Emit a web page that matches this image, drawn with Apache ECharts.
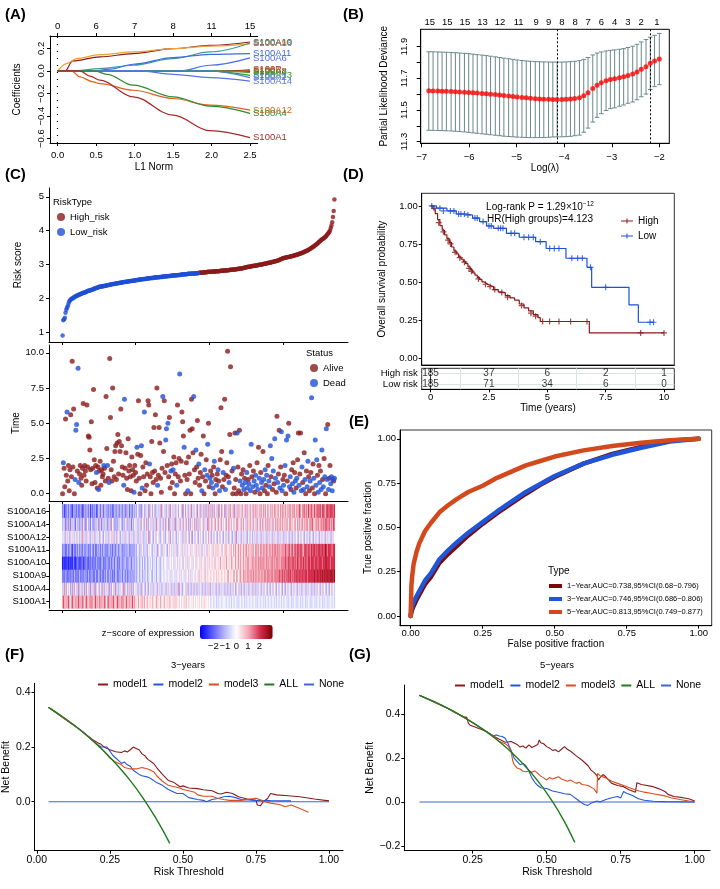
<!DOCTYPE html>
<html><head><meta charset="utf-8">
<script src="https://cdn.jsdelivr.net/npm/echarts@6/dist/echarts.min.js"></script>
<style>html,body{margin:0;padding:0;background:#fff}#c{width:720px;height:889px}</style>
</head><body><div id="c"></div>
<script>
// ---------- DATA ----------
// (A) LASSO coefficient paths
const l1Ticks = [0, 0.5, 1, 1.5, 2, 2.5];
const dfTop = ['0', '6', '7', '8', '11', '15'];
const pathGenes = ['S100A10','S100A9','S100A16','S100A11','S100A6','S100P','S100B','S100A8','S100A3','S100A13','S100A2','S100A14','S100A12','S100A4','S100A1'];
const pathColors = ['#8B1A1A','#F0A030','#3C9A9A','#3D6BE0','#4F6FE8','#A0302A','#E07030','#8B3A1A','#5A9A40','#2E9A2E','#4A7FD0','#5575E8','#E0601F','#2E8B2E','#A52A2A'];
const pathData = [
  [[0,0],[0.095,0],[0.195,0.088],[0.55,0.124],[0.98,0.153],[1.5,0.197],[1.98,0.226],[2.5,0.256]],
  [[0,0],[0.117,0.065],[0.247,0.109],[0.55,0.144],[0.98,0.168],[1.5,0.197],[1.98,0.22],[2.5,0.24]],
  [[0,0],[0.18,0],[0.55,0.02],[0.98,0.05],[1.5,0.109],[1.98,0.168],[2.5,0.247]],
  [[0,0],[0.46,0],[0.68,0.015],[0.98,0.059],[1.5,0.118],[1.98,0.147],[2.5,0.153]],
  [[0,0],[1.59,0],[1.98,0.05],[2.5,0.115]],
  [[0,0],[2.2,0],[2.5,0.01]],
  [[0,0],[2.25,0],[2.5,0.004]],
  [[0,0],[2.3,0],[2.5,-0.004]],
  [[0,0],[2.1,0],[2.5,-0.015]],
  [[0,0],[1.94,0],[2.5,-0.04]],
  [[0,0],[1.98,0],[2.5,-0.06]],
  [[0,0],[1.07,0],[1.5,-0.03],[1.98,-0.059],[2.5,-0.091]],
  [[0,0],[0.18,0],[0.29,-0.053],[0.46,-0.097],[0.55,-0.112],[0.98,-0.171],[1.5,-0.244],[1.98,-0.303],[2.5,-0.347]],
  [[0,0],[0.485,0],[0.64,-0.03],[0.98,-0.126],[1.5,-0.229],[1.98,-0.312],[2.5,-0.376]],
  [[0,0],[0.29,0],[0.42,-0.047],[0.55,-0.082],[0.98,-0.229],[1.5,-0.391],[1.98,-0.529],[2.5,-0.591]]
];
// (B) CV curve
const lamLog = [-6.85,-6.76,-6.66,-6.57,-6.48,-6.38,-6.29,-6.20,-6.10,-6.01,-5.92,-5.83,-5.73,-5.64,-5.55,-5.45,-5.36,-5.27,-5.17,-5.08,-4.99,-4.89,-4.80,-4.71,-4.61,-4.52,-4.43,-4.33,-4.24,-4.15,-4.05,-3.96,-3.87,-3.78,-3.68,-3.59,-3.50,-3.40,-3.31,-3.22,-3.12,-3.03,-2.94,-2.84,-2.75,-2.66,-2.56,-2.47,-2.38,-2.28,-2.19,-2.10,-2.00];
const cvMean = [11.622,11.621,11.620,11.619,11.618,11.617,11.616,11.614,11.613,11.611,11.609,11.607,11.605,11.603,11.600,11.598,11.595,11.592,11.589,11.586,11.583,11.580,11.577,11.574,11.572,11.570,11.569,11.568,11.567,11.567,11.567,11.568,11.570,11.573,11.577,11.590,11.609,11.636,11.657,11.672,11.685,11.693,11.697,11.704,11.710,11.719,11.727,11.740,11.757,11.773,11.795,11.810,11.822];
const cvUp = [11.868,11.868,11.867,11.866,11.865,11.864,11.862,11.860,11.858,11.856,11.853,11.850,11.847,11.844,11.840,11.836,11.832,11.828,11.824,11.820,11.816,11.813,11.810,11.808,11.806,11.805,11.804,11.803,11.803,11.803,11.803,11.804,11.806,11.808,11.812,11.820,11.832,11.848,11.860,11.867,11.873,11.877,11.880,11.884,11.888,11.895,11.903,11.915,11.930,11.945,11.960,11.972,11.984];
const cvLo = [11.372,11.372,11.371,11.370,11.369,11.368,11.366,11.364,11.362,11.359,11.356,11.353,11.350,11.347,11.344,11.341,11.338,11.335,11.333,11.331,11.329,11.328,11.327,11.326,11.326,11.326,11.327,11.328,11.330,11.331,11.331,11.332,11.334,11.338,11.342,11.360,11.386,11.424,11.454,11.477,11.497,11.509,11.514,11.524,11.532,11.543,11.551,11.565,11.584,11.601,11.630,11.648,11.660];
const lamMin = -4.15, lam1se = -2.19;
const topLam = [-6.83,-6.46,-6.09,-5.72,-5.35,-4.96,-4.59,-4.33,-4.05,-3.77,-3.50,-3.22,-2.94,-2.66,-2.38,-2.05];
const topDf = ['15','15','15','13','12','11','9','9','8','8','7','6','4','3','2','1'];
// (C) risk score, survival time/status, heatmap
const lowRiskCount = 185;
const riskScore = [0.90,1.35,1.38,1.42,1.57,1.66,1.72,1.76,1.84,1.90,1.93,1.96,1.98,1.99,2.00,2.02,2.03,2.05,2.06,2.07,2.08,2.09,2.10,2.11,2.12,2.13,2.14,2.15,2.16,2.16,2.17,2.18,2.19,2.20,2.21,2.22,2.22,2.23,2.24,2.24,2.25,2.26,2.27,2.28,2.29,2.30,2.30,2.31,2.32,2.33,2.34,2.34,2.35,2.35,2.35,2.36,2.36,2.36,2.37,2.37,2.38,2.38,2.39,2.39,2.40,2.40,2.41,2.41,2.42,2.42,2.42,2.43,2.43,2.44,2.44,2.44,2.45,2.45,2.46,2.46,2.46,2.47,2.47,2.48,2.48,2.48,2.49,2.49,2.49,2.50,2.50,2.50,2.51,2.51,2.51,2.52,2.52,2.52,2.53,2.53,2.53,2.54,2.54,2.54,2.55,2.55,2.55,2.56,2.56,2.56,2.57,2.57,2.57,2.57,2.58,2.58,2.58,2.59,2.59,2.59,2.60,2.60,2.60,2.60,2.61,2.61,2.61,2.61,2.62,2.62,2.62,2.62,2.63,2.63,2.63,2.63,2.64,2.64,2.64,2.64,2.65,2.65,2.65,2.65,2.66,2.66,2.66,2.66,2.67,2.67,2.67,2.67,2.67,2.68,2.68,2.68,2.68,2.69,2.69,2.69,2.69,2.70,2.70,2.70,2.70,2.71,2.71,2.71,2.71,2.71,2.72,2.72,2.72,2.72,2.72,2.73,2.73,2.73,2.73,2.73,2.73,2.74,2.74,2.74,2.74,2.75,2.75,2.75,2.75,2.76,2.76,2.76,2.76,2.77,2.77,2.77,2.77,2.78,2.78,2.78,2.78,2.78,2.78,2.78,2.79,2.79,2.79,2.79,2.79,2.80,2.80,2.80,2.80,2.80,2.81,2.81,2.81,2.81,2.82,2.82,2.82,2.82,2.82,2.83,2.83,2.83,2.83,2.84,2.84,2.84,2.84,2.85,2.85,2.85,2.85,2.86,2.86,2.86,2.87,2.87,2.87,2.88,2.88,2.88,2.89,2.89,2.90,2.90,2.91,2.91,2.92,2.92,2.93,2.93,2.93,2.94,2.94,2.95,2.95,2.95,2.96,2.96,2.97,2.97,2.97,2.98,2.98,2.99,2.99,3.00,3.00,3.00,3.01,3.01,3.02,3.02,3.03,3.03,3.04,3.04,3.05,3.05,3.06,3.06,3.07,3.07,3.08,3.08,3.09,3.09,3.10,3.11,3.11,3.12,3.13,3.14,3.15,3.16,3.17,3.18,3.19,3.19,3.20,3.20,3.21,3.21,3.22,3.22,3.23,3.23,3.24,3.24,3.25,3.25,3.26,3.27,3.27,3.28,3.29,3.29,3.30,3.31,3.32,3.32,3.33,3.34,3.35,3.36,3.37,3.38,3.39,3.40,3.41,3.42,3.43,3.45,3.46,3.47,3.49,3.50,3.52,3.53,3.55,3.57,3.58,3.60,3.62,3.64,3.66,3.68,3.70,3.72,3.74,3.75,3.77,3.78,3.80,3.82,3.85,3.88,3.90,3.93,3.96,4.00,4.08,4.15,4.25,4.40,4.58,4.92];
const survTime = [0.0,2.2,1.8,0.5,5.3,1.3,5.8,0.9,2.0,0.2, 1.7,5.6,1.2,9.4,1.9,6.0,0.0,1.0,4.5,4.9, 1.6,8.9,0.8,1.4,2.0,1.1,0.6,1.8,6.4,1.3, 2.0,1.6,0.9,6.3,1.9,4.1,4.0,3.1,1.7,5.1, 0.7,1.8,7.4,2.4,0.8,2.0,1.5,0.4,1.9,0.3, 1.6,2.3,0.6,1.7,1.2,1.4,2.0,1.8,0.9,6.9, 3.2,2.0,1.1,0.8,9.6,5.4,1.7,0.9,7.5,2.3, 1.2,3.0,3.4,1.0,3.6,4.2,1.4,3.7,3.0,6.0, 3.4,1.9,1.3,0.6,6.7,1.8,2.9,1.1,0.3,3.9, 1.6,2.0,1.2,0.2,2.6,1.7,1.3,0.1,2.0,1.5, 0.9,3.3,2.8,6.6,1.1,0.0,2.7,3.4,0.4,1.9, 1.2,5.8,0.2,2.2,0.6,1.4,6.6,6.3,2.1,1.2, 0.0,3.7,1.5,0.8,4.7,1.6,5.6,1.0,7.5,0.6, 1.3,4.7,3.6,1.1,0.1,1.8,6.9,3.0,6.6,1.5, 3.8,4.6,2.0,5.0,1.2,5.4,0.4,1.6,2.1,0.8, 1.7,2.6,0.0,1.4,2.2,0.6,6.3,1.2,2.5,8.5, 0.9,2.3,5.8,5.1,4.1,3.3,1.3,0.0,2.2,1.0, 0.2,2.6,1.4,4.5,0.0,6.7,4.6,2.9,6.9,1.7, 0.8,3.1,1.9,5.2,1.1,2.1,0.6,1.5,2.8,0.2, 1.2,4.1,0.0,1.7,0.9,2.4,1.3,3.5,5.0,0.5, 1.1,1.6,0.8,1.3,0.4,1.9,2.3,0.0,1.0,0.6, 1.4,1.7,0.9,0.2,2.4,6.1,3.0,0.5,1.5,1.0, 6.7,0.3,1.3,2.2,10.1,1.2,0.8,4.2,9.0,2.95, 1.6,0.0,1.8,0.4,4.3,1.0,0.0,4.3,1.9,0.2, 4.5,0.9,0.0,1.4,0.6,1.7,0.3,1.1,0.8,0.0, 1.5,0.4,1.0,0.7,2.0,0.2,3.5,1.2,0.5,1.6, 0.9,0.1,1.3,0.6,2.2,0.3,3.3,1.1,0.0,1.5, 0.8,0.4,3.0,1.0,0.2,1.7,0.6,1.3,0.0,2.0, 0.9,0.5,3.4,1.2,2.5,0.3,1.6,0.7,3.9,1.1, 0.1,5.5,0.8,1.4,4.5,0.4,1.9,4.4,0.2,1.0, 0.6,1.3,2.0,0.0,3.8,0.9,4.1,5.0,0.5,1.2, 0.3,1.7,0.7,2.2,0.1,1.5,0.9,0.4,1.1,2.4, 4.3,0.6,1.4,4.3,0.2,1.9,0.8,0.3,2.9,1.0, 0.0,1.6,0.5,2.3,1.2,0.2,0.9,1.5,6.8,0.4, 2.1,1.1,0.0,3.8,0.6,2.4,1.3,0.1,2.0,0.8, 1.6,0.3,3.1,1.0,0.5,2.5,1.2,0.0,4.6,1.0, 4.9,0.3,1.1,2.0,0.7,1.2,0.2,1.0,0.9,1.1];
const survStatus = 'adaaaadaaa aaaaaaaddd addaaaaaaa aaaaaaaaaa aaaaaadaad aaaaaadaaa adadaaaaaa aaaaaaaaaa aaaddaaaaa aaaaaaadaa adaaaaadda adaaaaaada aaaaaaaaad aaaaaadaaa ddadaaadaa daaaadaaad aaaaadaaaa daaaaaaada adaaadaaad aaadaaddaa dadadadaad adadaaaada adaaaadaad aadaaaadaa adaadadada ddadaddada daddadadaa ddadadadaa dddadadadd aadaadadda dadadadadd aadadadada adaaddadad aaddaadada adadddadad addadadadd adaaddddad';
const heatGenes = ['S100A1','S100A4','S100A9','S100A10','S100A11','S100A12','S100A14','S100A16'];
const heatRows = [
 '5675646576 5465756465 6576465756 4657564657 5646576465 5756465756 4657564657 6546576465 5756465746 5646576465 4546545465 4654546454 5464545465 4546454546 4545464545 4546454545 4454545464 4545445454 4544545445 4545454454 4343434343 3434343434 4343434343 3434343433 4343434334 3434343434 3434334343 4343433434 3434343434 3343434334 3434343343 4334343433 4343343434 3343434334 3434334343 4343343434 3343434343',
 '3536352435 4253635243 5362435243 6352435362 4353625343 5243635243 5342635243 5362435243 4536253425 3524635243 4352435253 4352435243 5342534352 4353425343 5243534352 4352435362 4352434353 5243524352 4352435343 5243524353 5243534352 4352435343 5243524352 4353425343 5352435243 5342534352 4352435343 5243534352 4352435343 5243534352 4352435343 5243534352 4353425343 5243534352 4352435343 5243534352 4352435343',
 '2121312121 2131212312 1213212131 2312123121 3212131213 2213121312 3212313212 2132312132 3213231312 2313231323 3234323432 3423432343 4323434324 3432434343 4343434354 3434354343 4354345343 4534354345 4345453545 4545354545 4545454545 5454545454 5454565454 5456545654 5565456565 5656565656 6565656565 6565666566 6656666566 6666676667 6676676767 7667676777 6777677767 7776777777 7787777877 7878778787 8787887878',
 '0010010100 1010021001 1210201210 1212120212 2121212312 1212321212 2312132123 2132312213 2312323213 2323132323 3234323432 4323432343 3432434324 3432434354 4343543434 4354343543 4345354345 3543454354 4534545435 4545354545 5454545354 5454564545 5456454545 6545465456 5465456546 5656546565 6565656656 6566565665 6565666565 6666565666 6667666767 6676767667 7667676776 7676777677 7767777677 7776777787 7777677777',
 '2132121312 2312031213 1232132123 2132312213 3212312132 2313213231 2132313212 3213231323 2312313232 3213231323 3243423534 3243532434 4352434352 3543425343 4352435453 4354352434 5435343545 3454354345 4535435453 5345435354 5454535454 6454545354 5465454546 5456465456 5465456546 6546546556 5465656546 6556565665 5656566566 6566565656 6567656676 5676567667 6767676567 7676767677 6777676777 7677767877 6777767677',
 '3435243534 2534354243 5342435635 3425343524 3534253434 2534352435 3425343534 6342534352 4353425343 5243534253 4352435343 5243534625 3435243534 4352434535 2434535243 5343524354 3435243535 4352436243 5343524354 3524353436 4352435343 5243534352 4353425343 5243536243 4352435343 5234353424 3534253435 2435343524 3534352435 4352435343 5243534352 4352435343 5243534352 4353425343 5243534352 4353435243 5343524354',
 '3243152362 3142353214 2531423624 3152432513 4231532436 2351423524 3142536243 5231423534 2413524352 3524135243 4352435254 3524635243 5342534625 4352435364 2534625342 4536253453 5243564352 4635243546 3524635354 4635345263 5463545364 5364536453 4536456354 6453546365 4536456453 5364556435 6453564536 4563546356 5364536546 3564656456 5465365465 6546456546 5364656546 5656465657 6546565665 5665756676 6576566576',
 '2130212312 3212031321 2312132021 3152312302 2131230213 3213521323 2312313212 1323152313 2313231252 3123213323 3243523153 4325343265 3425432534 2435263453 5324352643 3542534524 4352634254 5243562435 3452643525 4253642536 5364253645 3562546354 2563546365 4536254635 6453564356 5364536456 3564635465 6546356456 5465364565 6456546356 5646546365 6547565465 6576546576 5665765675 6576567576 7657676567 7676776767'
];
const zTicks = [-2, -1, 0, 1, 2];
// (D) Kaplan-Meier
const kmHigh = [[0,1],[0.1,0.98],[0.2,0.95],[0.3,0.91],[0.4,0.87],[0.5,0.84],[0.6,0.81],[0.7,0.785],[0.8,0.76],[0.9,0.73],[1.0,0.705],[1.1,0.685],[1.2,0.665],[1.3,0.65],[1.4,0.635],[1.5,0.62],[1.6,0.6],[1.7,0.58],[1.8,0.56],[1.9,0.545],[2.0,0.53],[2.1,0.515],[2.2,0.5],[2.3,0.49],[2.4,0.48],[2.5,0.47],[2.7,0.45],[2.9,0.435],[3.0,0.43],[3.2,0.41],[3.4,0.395],[3.6,0.38],[3.8,0.355],[4.0,0.33],[4.2,0.31],[4.4,0.285],[4.6,0.265],[4.7,0.24],[6.8,0.165],[10.0,0.165]];
const kmLow = [[0,1],[0.25,0.985],[0.7,0.967],[1.1,0.947],[1.5,0.94],[1.8,0.92],[2.1,0.897],[2.4,0.868],[2.7,0.853],[3.25,0.82],[3.8,0.794],[4.5,0.765],[4.95,0.72],[5.8,0.656],[6.7,0.596],[6.9,0.465],[8.5,0.349],[8.9,0.235],[9.55,0.235]];
const censHigh = [[0.35,0.89],[0.55,0.83],[0.75,0.775],[0.85,0.75],[1.05,0.695],[1.25,0.66],[1.45,0.63],[1.65,0.59],[1.75,0.57],[2.05,0.52],[2.35,0.485],[2.55,0.47],[2.75,0.45],[3.05,0.43],[3.3,0.40],[3.9,0.345],[4.3,0.295],[4.5,0.275],[4.8,0.24],[5.1,0.24],[5.5,0.24],[6.0,0.24],[6.7,0.24],[9.0,0.165],[10.0,0.165]];
const censLow = [[0.05,1.0],[0.15,0.985],[0.4,0.985],[0.55,0.967],[0.85,0.967],[1.0,0.967],[1.2,0.947],[1.3,0.947],[1.45,0.947],[1.6,0.94],[1.9,0.92],[2.0,0.92],[2.25,0.897],[2.5,0.868],[2.6,0.868],[2.9,0.853],[3.0,0.853],[3.1,0.853],[3.45,0.82],[3.6,0.82],[4.0,0.794],[4.2,0.794],[4.4,0.794],[4.7,0.765],[5.1,0.72],[5.3,0.72],[5.5,0.72],[6.05,0.656],[6.3,0.656],[6.5,0.656],[6.85,0.596],[7.5,0.465],[9.4,0.235],[9.55,0.235]];
const tableTimes = [0, 2.5, 5, 7.5, 10];
const atRiskHigh = [185, 37, 6, 2, 1];
const atRiskLow = [185, 71, 34, 6, 0];
// (E) ROC
const rocNames = ['1−Year,AUC=0.738,95%CI(0.68−0.796)','3−Year,AUC=0.746,95%CI(0.686−0.806)','5−Year,AUC=0.813,95%CI(0.749−0.877)'];
const rocFpr = [0,0.0025,0.005,0.01,0.02,0.03,0.05,0.07,0.1,0.13,0.16,0.2,0.25,0.3,0.35,0.4,0.45,0.5,0.6,0.7,0.8,0.9,1.0];
const roc1 = [0,0.02,0.035,0.055,0.09,0.12,0.18,0.22,0.3,0.35,0.395,0.455,0.52,0.58,0.635,0.69,0.74,0.785,0.86,0.915,0.955,0.99,1.0];
const roc3 = [0,0.035,0.05,0.075,0.11,0.14,0.2,0.24,0.32,0.37,0.415,0.47,0.53,0.59,0.645,0.70,0.745,0.79,0.86,0.91,0.95,0.985,1.0];
const roc5 = [0,0.17,0.22,0.29,0.36,0.41,0.48,0.525,0.585,0.625,0.66,0.70,0.735,0.78,0.815,0.85,0.875,0.90,0.935,0.96,0.978,0.992,1.0];
// (F) DCA 3-years
const f3Model1 = [[0.04,0.345],[0.1,0.30],[0.15,0.262],[0.19,0.228],[0.21,0.215],[0.22,0.21],[0.23,0.2],[0.25,0.19],[0.27,0.183],[0.29,0.18],[0.3,0.186],[0.31,0.182],[0.32,0.19],[0.33,0.2],[0.34,0.195],[0.35,0.19],[0.36,0.175],[0.37,0.168],[0.38,0.155],[0.4,0.14],[0.41,0.125],[0.43,0.1],[0.45,0.078],[0.47,0.07],[0.49,0.055],[0.5,0.058],[0.52,0.05],[0.55,0.048],[0.57,0.044],[0.6,0.04],[0.62,0.03],[0.63,0.028],[0.65,0.035],[0.67,0.03],[0.69,0.018],[0.72,0.01],[0.75,0.005],[0.755,-0.012],[0.765,-0.015],[0.775,0.0],[0.79,0.012],[0.8,0.03],[0.82,0.025],[0.86,0.022],[0.9,0.018],[0.95,0.01],[1.0,0.003]];
const f3Model2 = [[0.04,0.345],[0.1,0.30],[0.15,0.262],[0.2,0.215],[0.22,0.2],[0.24,0.2],[0.25,0.185],[0.26,0.17],[0.27,0.16],[0.28,0.15],[0.29,0.14],[0.3,0.145],[0.31,0.135],[0.32,0.13],[0.33,0.115],[0.35,0.1],[0.36,0.095],[0.38,0.09],[0.39,0.085],[0.41,0.07],[0.43,0.06],[0.45,0.045],[0.47,0.035],[0.48,0.03],[0.5,0.03],[0.52,0.015],[0.55,0.008],[0.57,0.005],[0.58,0.0],[0.6,0.008],[0.62,0.012],[0.64,0.018],[0.66,0.02],[0.68,0.015],[0.7,0.008],[0.75,0.005],[0.8,0.004],[0.87,0.003]];
const f3Model3 = [[0.04,0.345],[0.1,0.30],[0.15,0.262],[0.2,0.215],[0.23,0.185],[0.25,0.16],[0.27,0.145],[0.29,0.135],[0.3,0.125],[0.32,0.12],[0.34,0.12],[0.36,0.125],[0.38,0.12],[0.4,0.11],[0.41,0.095],[0.43,0.075],[0.45,0.06],[0.47,0.055],[0.49,0.05],[0.5,0.045],[0.52,0.04],[0.54,0.035],[0.55,0.025],[0.57,0.02],[0.6,0.02],[0.62,0.012],[0.64,0.008],[0.66,0.005],[0.7,0.005],[0.73,0.01],[0.75,0.013],[0.77,0.005],[0.78,0.0],[0.8,-0.005],[0.83,-0.01],[0.85,-0.018],[0.87,-0.012],[0.89,-0.02],[0.93,-0.038]];
const f3All = [[0.04,0.345],[0.08,0.317],[0.12,0.286],[0.16,0.252],[0.2,0.215],[0.24,0.174],[0.28,0.128],[0.32,0.077],[0.36,0.019],[0.4,-0.047],[0.43,-0.102],[0.455,-0.152]];
const f3None = [[0.04,0],[1.0,0]];
// (G) DCA 5-years
const g5Model1 = [[0.07,0.485],[0.12,0.456],[0.17,0.423],[0.2,0.4],[0.22,0.388],[0.23,0.385],[0.235,0.36],[0.24,0.35],[0.26,0.34],[0.28,0.33],[0.3,0.318],[0.32,0.3],[0.34,0.285],[0.36,0.272],[0.38,0.275],[0.4,0.262],[0.41,0.25],[0.42,0.255],[0.43,0.245],[0.44,0.26],[0.45,0.248],[0.46,0.255],[0.47,0.262],[0.475,0.282],[0.48,0.27],[0.49,0.265],[0.5,0.252],[0.51,0.245],[0.52,0.235],[0.53,0.238],[0.54,0.228],[0.55,0.24],[0.56,0.252],[0.57,0.24],[0.58,0.232],[0.6,0.21],[0.62,0.19],[0.64,0.165],[0.65,0.145],[0.66,0.135],[0.67,0.12],[0.675,0.1],[0.68,0.11],[0.69,0.125],[0.7,0.115],[0.71,0.1],[0.72,0.085],[0.74,0.075],[0.76,0.07],[0.78,0.055],[0.8,0.045],[0.805,0.088],[0.82,0.08],[0.86,0.07],[0.88,0.06],[0.9,0.048],[0.91,0.035],[0.93,0.025],[0.96,0.02],[0.98,0.015],[1.0,0.005]];
const g5Model2 = [[0.07,0.485],[0.17,0.423],[0.22,0.386],[0.27,0.344],[0.3,0.318],[0.32,0.3],[0.33,0.305],[0.34,0.3],[0.35,0.298],[0.36,0.29],[0.37,0.265],[0.38,0.235],[0.39,0.2],[0.4,0.185],[0.41,0.17],[0.42,0.175],[0.43,0.165],[0.44,0.14],[0.45,0.11],[0.46,0.09],[0.47,0.075],[0.48,0.065],[0.5,0.062],[0.52,0.05],[0.54,0.045],[0.56,0.038],[0.58,0.035],[0.59,0.025],[0.6,0.015],[0.61,0.005],[0.62,-0.005],[0.63,-0.012],[0.64,-0.015],[0.65,-0.005],[0.66,0.0],[0.67,0.005],[0.68,0.0],[0.7,0.012],[0.72,0.02],[0.74,0.025],[0.75,0.018],[0.76,0.048],[0.77,0.04],[0.79,0.03],[0.81,0.015],[0.83,0.008],[0.86,0.004],[0.9,0.002],[1.0,0.0]];
const g5Model3 = [[0.07,0.485],[0.17,0.423],[0.22,0.384],[0.25,0.36],[0.28,0.335],[0.3,0.318],[0.32,0.3],[0.34,0.275],[0.36,0.265],[0.37,0.255],[0.38,0.23],[0.385,0.19],[0.39,0.17],[0.4,0.155],[0.41,0.15],[0.42,0.14],[0.43,0.138],[0.44,0.14],[0.45,0.135],[0.46,0.142],[0.47,0.13],[0.48,0.118],[0.49,0.11],[0.5,0.1],[0.51,0.112],[0.52,0.105],[0.53,0.11],[0.54,0.115],[0.55,0.105],[0.57,0.095],[0.58,0.1],[0.6,0.085],[0.61,0.09],[0.62,0.08],[0.64,0.075],[0.66,0.06],[0.67,0.04],[0.672,0.13],[0.68,0.12],[0.7,0.11],[0.72,0.095],[0.74,0.085],[0.76,0.075],[0.78,0.065],[0.8,0.055],[0.83,0.045],[0.86,0.038],[0.9,0.028],[0.92,0.02],[0.95,0.012],[0.98,0.005],[1.0,0.0]];
const g5All = [[0.07,0.485],[0.12,0.456],[0.17,0.423],[0.22,0.386],[0.27,0.344],[0.32,0.296],[0.37,0.24],[0.42,0.174],[0.47,0.096],[0.52,0.002],[0.56,-0.089],[0.595,-0.183]];
const g5None = [[0.07,0],[1.0,0]];

// ---------- BUILD ----------
const FONT = '"Liberation Sans", Arial, Helvetica, sans-serif';
const RED = '#8B1A1A', BLUE = '#1E4FD6';
const mfmt = d => v => (v < 0 ? '\u2212' : '') + Math.abs(v).toFixed(d);

function ax(g, min, max, ticks, fmt, o) {
  o = o || {};
  const a = {type:'value', gridIndex:g, min:min, max:max,
    axisLine:{show:!o.noLine, onZero:false, lineStyle:{color:o.lineColor||'#000', width:1}},
    axisTick:{show:!o.noTick, length:o.tickLen||3, inside:!!o.tickInside, customValues:ticks, lineStyle:{color:o.tickColor||'#000'}},
    axisLabel:{show:!o.noLabel, customValues:o.labels||ticks, formatter:fmt, color:'#000', fontSize:o.fs||9.5, margin:o.margin==null?5:o.margin, rotate:o.rotate||0, fontFamily:FONT},
    splitLine:{show:false}};
  if (o.name) { a.name=o.name; a.nameLocation='middle'; a.nameGap=o.gap; a.nameTextStyle={color:'#000', fontSize:o.nfs||10, fontFamily:FONT}; }
  if (o.position) a.position = o.position;
  if (o.offset) a.offset = o.offset;
  if (o.show === false) a.show = false;
  return a;
}

const grids = [
  {left:50, width:207.7, top:36, height:107},            //0 A
  {left:420.7, width:248.6, top:29.3, height:114, show:true, borderColor:'#000', borderWidth:1}, //1 B
  {left:49, width:299, top:188, height:154},            //2 C risk
  {left:49, width:299, top:345, height:156},            //3 C time
  {left:62.2, width:272.6, top:504.5, height:103.7},    //4 C heat
  {left:49, width:299, top:504.5, height:105.5},        //5 C frame
  {left:200, width:72.7, top:625, height:14},           //6 colorbar
  {left:421.7, width:252.6, top:193.3, height:171.7, show:true, borderColor:'#333', borderWidth:1}, //7 D KM
  {left:421.7, width:252.6, top:368.3, height:21, show:true, borderColor:'#333', borderWidth:1},   //8 D table
  {left:400, width:311.7, top:430, height:195.7, show:true, borderColor:'#333', borderWidth:1},    //9 E
  {left:33.3, width:309.7, top:683.3, height:167.4},    //10 F
  {left:404.3, width:305.7, top:685, height:165.7}      //11 G
];

const xIdxMin = -17.45, xIdxMax = 388.45, idxTicks = [0,100,200,300];
const heatCats = riskScore.map((v,i)=>String(i+1));

const xAxis = [
  ax(0, -0.1, 2.6, l1Ticks, mfmt(1), {name:'L1 Norm', gap:19, margin:7}),                       //0
  ax(0, -0.1, 2.6, l1Ticks, v => dfTop[Math.round(v/0.5)], {position:'top', margin:5}),       //1
  ax(1, -7.02, -1.79, [-7,-6,-5,-4,-3,-2], mfmt(0), {name:'Log(\u03bb)', gap:18, margin:9, tickLen:4}), //2
  ax(1, -7.02, -1.79, topLam, v => { let b=0; for (let i=1;i<topLam.length;i++) if (Math.abs(topLam[i]-v)<Math.abs(topLam[b]-v)) b=i; return topDf[b]; }, {position:'top', noTick:true, noLine:true, margin:2}), //3
  ax(2, xIdxMin, xIdxMax, idxTicks, null, {noLabel:true}),                                     //4
  ax(3, xIdxMin, xIdxMax, idxTicks, null, {noLabel:true}),                                     //5
  {type:'category', gridIndex:4, data:heatCats, show:false},                                   //6
  ax(5, xIdxMin, xIdxMax, idxTicks, null, {noLabel:true}),                                     //7
  ax(6, -3.15, 3.15, zTicks, mfmt(0), {noLine:true, tickInside:true, tickColor:'#fff', margin:2, fs:9.5}), //8
  ax(7, -0.38, 10.44, [], null, {noLabel:true, noTick:true}),                                  //9
  ax(8, -0.38, 10.44, tableTimes, v => String(v), {name:'Time (years)', gap:12, margin:3}),   //10
  ax(9, -0.037, 1.045, [0,0.25,0.5,0.75,1], mfmt(2), {name:'False positive fraction', gap:12, margin:3}), //11
  ax(10, -0.008, 1.048, [0,0.25,0.5,0.75,1], mfmt(2), {name:'Risk Threshold', gap:16, margin:4, fs:10.5, nfs:10.5}), //12
  ax(11, 0.019, 1.052, [0.25,0.5,0.75,1], mfmt(2), {name:'Risk Threshold', gap:15, margin:4, fs:10.5, nfs:10.5})     //13
];

const yAxis = [
  ax(0, -0.638, 0.309, [-0.6,-0.4,-0.2,0,0.2], mfmt(1), {name:'Coefficients', gap:28, rotate:90, margin:4}), //0
  ax(1, 11.29, 12.01, [11.3,11.4,11.5,11.6,11.7,11.8,11.9], mfmt(1), {labels:[11.3,11.5,11.7,11.9], name:'Partial Likelihood Deviance', gap:31, rotate:90, margin:11, tickLen:4}), //1
  ax(2, 0.705, 5.26, [1,2,3,4,5], v => String(v), {name:'Risk score', gap:26, margin:5}),   //2
  ax(3, -0.52, 10.55, [0,2.5,5,7.5,10], mfmt(1), {name:'Time', gap:26, margin:5}),          //3
  {type:'category', gridIndex:4, data:heatGenes, offset:13,
    axisLine:{show:true, lineStyle:{color:'#000'}}, axisTick:{show:true, length:3, interval:0, alignWithLabel:true, lineStyle:{color:'#000'}},
    axisLabel:{color:'#000', fontSize:9.5, margin:3, interval:0, fontFamily:FONT}},               //4
  ax(5, 0, 1, [], null, {show:false}),                                                          //5
  ax(6, 0, 1, [], null, {show:false}),                                                          //6
  ax(7, -0.046, 1.083, [0,0.25,0.5,0.75,1], mfmt(2), {name:'Overall survival probability', gap:34, margin:4}), //7
  {type:'category', gridIndex:8, data:['Low risk','High risk'],
    axisLine:{show:true, lineStyle:{color:'#333'}}, axisTick:{show:true, length:3, interval:0, alignWithLabel:true, lineStyle:{color:'#000'}},
    axisLabel:{color:'#000', fontSize:9.5, margin:4, interval:0, fontFamily:FONT}},               //8
  ax(9, -0.055, 1.05, [0,0.25,0.5,0.75,1], mfmt(2), {name:'True positive fraction', gap:25, margin:4}), //9
  ax(10, -0.179, 0.433, [0,0.2,0.4], mfmt(1), {name:'Net Benefit', gap:20, margin:4, fs:10.5, nfs:10.5}), //10
  ax(11, -0.221, 0.532, [-0.2,0,0.2,0.4], mfmt(1), {name:'Net Benefit', gap:24, margin:4, fs:10.5, nfs:10.5}) //11
];

const series = [];
// A
pathGenes.forEach((g, i) => {
  const s = {type:'line', name:g, xAxisIndex:0, yAxisIndex:0, data:pathData[i], smooth:0.35, smoothMonotone:'x',
    showSymbol:false, symbol:'none', lineStyle:{color:pathColors[i], width:1.2}, itemStyle:{color:pathColors[i]},
    endLabel:{show:true, formatter:'{a}', color:pathColors[i], fontSize:9.5, fontFamily:FONT, distance:3}, silent:true};
  if (i === 0) s.markLine = {symbol:['none','none'], silent:true, label:{show:false}, lineStyle:{type:[1,6], color:'#000', width:1.2}, data:[{xAxis:0}]};
  series.push(s);
});
// B
series.push({type:'custom', xAxisIndex:2, yAxisIndex:1, data: lamLog.map((x,i)=>[x, cvLo[i], cvUp[i]]),
  encode:{x:0, y:[1,2]}, silent:true,
  renderItem:(p, api) => {
    const a = api.coord([api.value(0), api.value(1)]), b = api.coord([api.value(0), api.value(2)]), w = 2.3;
    const st = {stroke:'#6B8888', lineWidth:1};
    return {type:'group', children:[
      {type:'line', shape:{x1:a[0], y1:a[1], x2:b[0], y2:b[1]}, style:st},
      {type:'line', shape:{x1:a[0]-w, y1:a[1], x2:a[0]+w, y2:a[1]}, style:st},
      {type:'line', shape:{x1:b[0]-w, y1:b[1], x2:b[0]+w, y2:b[1]}, style:st}]};
  }});
series.push({type:'scatter', xAxisIndex:2, yAxisIndex:1, data: lamLog.map((x,i)=>[x, cvMean[i]]), symbolSize:5,
  itemStyle:{color:'#FF0000'}, silent:true, z:5,
  markLine:{symbol:['none','none'], silent:true, label:{show:false}, lineStyle:{type:[2,2], color:'#000', width:1}, data:[{xAxis:lamMin},{xAxis:lam1se}]}});
// C risk
series.push({type:'scatter', name:'High_risk', xAxisIndex:4, yAxisIndex:2, symbolSize:4.5, itemStyle:{color:RED},
  data: riskScore.map((v,i)=>[i+1, v]).filter((d,i)=>i>=lowRiskCount), silent:true});
series.push({type:'scatter', name:'Low_risk', xAxisIndex:4, yAxisIndex:2, symbolSize:4.5, itemStyle:{color:BLUE},
  data: riskScore.map((v,i)=>[i+1, v]).filter((d,i)=>i<lowRiskCount), silent:true});
// C time
const stat = survStatus.replace(/\s/g,'');
series.push({type:'scatter', name:'Alive', xAxisIndex:5, yAxisIndex:3, symbolSize:5, itemStyle:{color:RED},
  data: survTime.map((t,i)=>[i+1, t]).filter((d,i)=>stat[i]==='a'), silent:true});
series.push({type:'scatter', name:'Dead', xAxisIndex:5, yAxisIndex:3, symbolSize:5, itemStyle:{color:BLUE},
  data: survTime.map((t,i)=>[i+1, t]).filter((d,i)=>stat[i]==='d'), silent:true});
// C heat
const heatData = [];
heatRows.forEach((r, gi) => {
  const s = r.replace(/\s/g,'');
  for (let i = 0; i < Math.min(s.length, heatCats.length); i++) heatData.push([i, gi, (Number(s[i]) - 4) * 0.7]);
});
const heatSeriesIndex = series.length;
series.push({type:'heatmap', xAxisIndex:6, yAxisIndex:4, data:heatData, silent:true, progressive:0, itemStyle:{borderWidth:0}});
// D
const plusSym = 'path://M4,0H6V4H10V6H6V10H4V6H0V4H4Z';
series.push({type:'line', name:'High', xAxisIndex:9, yAxisIndex:7, data:kmHigh, step:'end', symbol:'none', lineStyle:{color:RED, width:1.2}, itemStyle:{color:RED}, silent:true});
series.push({type:'line', name:'Low', xAxisIndex:9, yAxisIndex:7, data:kmLow, step:'end', symbol:'none', lineStyle:{color:BLUE, width:1.2}, itemStyle:{color:BLUE}, silent:true});
series.push({type:'scatter', xAxisIndex:9, yAxisIndex:7, data:censHigh, symbol:plusSym, symbolSize:6, itemStyle:{color:RED}, silent:true});
series.push({type:'scatter', xAxisIndex:9, yAxisIndex:7, data:censLow, symbol:plusSym, symbolSize:6, itemStyle:{color:BLUE}, silent:true});
const tableData = tableTimes.map((t,i)=>[t,'High risk',atRiskHigh[i]]).concat(tableTimes.map((t,i)=>[t,'Low risk',atRiskLow[i]]));
series.push({type:'scatter', xAxisIndex:10, yAxisIndex:8, data:tableData, symbolSize:0.1, itemStyle:{color:'transparent'}, silent:true, z:5,
  label:{show:true, position:'inside', formatter:p=>String(p.value[2]), color:'#000', fontSize:10, fontFamily:FONT, backgroundColor:'transparent'},
  markLine:{symbol:['none','none'], silent:true, label:{show:false}, lineStyle:{type:'solid', color:'#D8E4E4', width:1},
    data:[{yAxis:'High risk'},{yAxis:'Low risk'},{xAxis:1.25},{xAxis:3.75},{xAxis:6.25},{xAxis:8.75}]}});
// E
const rocCols = ['#7A0A0A','#1F55D6','#D2491E'];
[roc1, roc3, roc5].forEach((r, k) => series.push({type:'line', name:rocNames[k], xAxisIndex:11, yAxisIndex:9,
  data: rocFpr.map((f,i)=>[f, r[i]]), smooth:false, symbol:'none', lineStyle:{color:rocCols[k], width:4.5, cap:'round', join:'round'}, itemStyle:{color:rocCols[k]}, silent:true}));
// F / G
const dcaCols = {model1:'#8B1A1A', model2:'#2358D8', model3:'#D94E1F', ALL:'#1E7B1E', None:'#3F62E0'};
function dca(xi, yi, sets) {
  Object.keys(sets).forEach(n => series.push({type:'line', name:n, xAxisIndex:xi, yAxisIndex:yi, data:sets[n],
    smooth: n==='ALL' ? 0.4 : false, symbol:'none', lineStyle:{color:dcaCols[n], width:n==='ALL'?1.4:1.1}, itemStyle:{color:dcaCols[n]}, silent:true}));
}
dca(12, 10, {None:f3None, model1:f3Model1, model2:f3Model2, model3:f3Model3, ALL:f3All});
dca(13, 11, {None:g5None, model1:g5Model1, model2:g5Model2, model3:g5Model3, ALL:g5All});

const lg = (o) => Object.assign({padding:0, selectedMode:false, textStyle:{color:'#000', fontSize:9.5, fontFamily:FONT}}, o);
const legend = [
  lg({data:['High_risk','Low_risk'], orient:'vertical', left:57, top:212, icon:'circle', itemWidth:8, itemHeight:8, itemGap:5}),
  lg({data:['Alive','Dead'], orient:'vertical', left:310, top:363, icon:'circle', itemWidth:8, itemHeight:8, itemGap:5}),
  lg({data:['High','Low'], orient:'vertical', left:621, top:216, icon:'path://M0,9H24V11H0Z M11,5H13V15H11Z', itemWidth:12, itemHeight:8, itemGap:5, textStyle:{color:'#000', fontSize:10, fontFamily:FONT}}),
  lg({data:rocNames, orient:'vertical', left:549, top:582, icon:'rect', itemWidth:13, itemHeight:4, itemGap:5, textStyle:{color:'#000', fontSize:7.5, fontFamily:FONT}}),
  lg({data:['model1','model2','model3','ALL','None'], left:98, top:679, icon:'rect', itemWidth:10, itemHeight:2, itemGap:6, textStyle:{color:'#000', fontSize:10.5, fontFamily:FONT}}),
  lg({data:['model1','model2','model3','ALL','None'], left:455, top:680, icon:'rect', itemWidth:10, itemHeight:2, itemGap:6, textStyle:{color:'#000', fontSize:10.5, fontFamily:FONT}})
];

const T = (x, y, text, o) => { o = o || {}; return {type:'text', x:x, y:y, silent:true,
  style:{text:text, fill:'#000', fontSize:o.fs||10, fontWeight:o.bold?'bold':'normal', fontFamily:FONT,
    textAlign:o.align||'left', align:o.align||'left', textVerticalAlign:'middle', verticalAlign:'middle', rich:o.rich}}; };
const graphic = [
  T(5, 15, '(A)', {fs:15, bold:true}), T(343, 15, '(B)', {fs:15, bold:true}),
  T(5, 175, '(C)', {fs:15, bold:true}), T(343, 175, '(D)', {fs:15, bold:true}),
  T(349, 422, '(E)', {fs:15, bold:true}), T(5, 655, '(F)', {fs:15, bold:true}), T(349, 655, '(G)', {fs:15, bold:true}),
  T(53, 202, 'RiskType', {fs:9.5}), T(306, 353, 'Status', {fs:9.5}),
  T(148, 633, 'z\u2212score of expression', {fs:9.5, align:'center'}),
  T(540, 207, 'Log-rank P = 1.29\u00d710{s|\u221212}', {fs:10, align:'center', rich:{s:{fontSize:6.5, padding:[0,0,6,0], fontFamily:FONT}}}),
  T(540, 219.5, 'HR(High groups)=4.123', {fs:10, align:'center'}),
  T(548, 571, 'Type', {fs:10}),
  T(188, 665, '3\u2212years', {fs:9.5, align:'center'}), T(557, 665, '5\u2212years', {fs:9.5, align:'center'})
];

const option = {
  animation:false, backgroundColor:'#fff', textStyle:{fontFamily:FONT},
  grid:grids, xAxis:xAxis, yAxis:yAxis, series:series, legend:legend, graphic:graphic,
  visualMap:[{type:'continuous', seriesIndex:heatSeriesIndex, min:-3.15, max:3.15, orient:'horizontal', left:200, top:625,
    itemWidth:14, itemHeight:72.7, padding:0, calculable:false, text:null, showLabel:false, hoverLink:false,
    inRange:{color:['#0000FF','#5A5AFF','#B4B4FF','#FFFFFF','#F4A6B6','#D42A4A','#7A0000']}}]
};
const chart = echarts.init(document.getElementById('c'), null, {renderer:'canvas'});
chart.setOption(option);
</script></body></html>
